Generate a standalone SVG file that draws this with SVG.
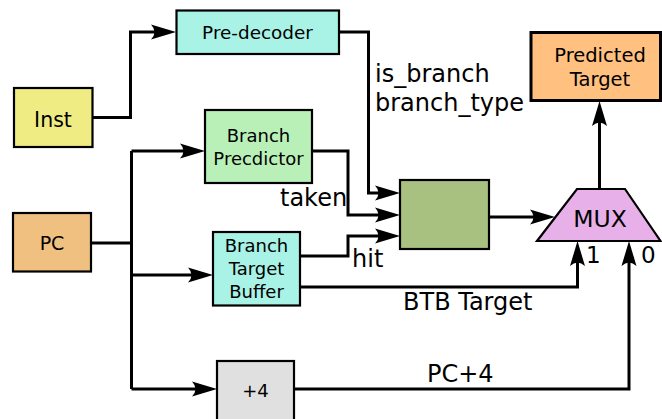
<svg xmlns="http://www.w3.org/2000/svg" width="662" height="419" viewBox="0 0 662 419">
<defs>
<style>
.box{stroke:#000;stroke-width:2.2}
.lbl{font-family:"DejaVu Sans",Verdana,sans-serif;font-size:18px;fill:#000;text-anchor:middle}
.txt{font-family:"DejaVu Sans",Verdana,sans-serif;font-size:24px;fill:#000}
.wire{fill:none;stroke:#000;stroke-width:3}
.arr{marker-end:url(#ah)}
</style>
<marker id="ah" markerUnits="userSpaceOnUse" viewBox="-26 -9 27 18" refX="-10" refY="0" markerWidth="27" markerHeight="18" orient="auto">
<path d="M0,0 L-25,-7.5 Q-18,0 -25,7.5 Z" fill="#000"/>
</marker>
</defs>
<rect width="662" height="419" fill="#fff"/>
<g id="connectors">
<path class="wire arr" d="M92.5,117.5 H130.5 V32 H166"/>
<path class="wire" d="M91,243 H131.5"/>
<path class="wire" d="M131.5,151 V389"/>
<path class="wire arr" d="M131.5,151 H195"/>
<path class="wire arr" d="M131.5,275 H203"/>
<path class="wire arr" d="M131.5,389 H207"/>
<path class="wire arr" d="M339,32 H368.5 V193 H390"/>
<path class="wire arr" d="M312,151 H348 V215 H390"/>
<path class="wire arr" d="M300,256 H348 V236 H390"/>
<path class="wire arr" d="M489,217 H545"/>
<path class="wire arr" d="M599.5,189 V111"/>
<path class="wire arr" d="M300,287 H577.5 V251"/>
<path class="wire arr" d="M294,389 H629 V251"/>
</g>
<g id="inst"><rect class="box" x="14" y="88" width="78.5" height="59" fill="#f0ec84"/><text class="lbl" x="53" y="127" style="font-size:20.5px">Inst</text></g>
<g id="pc"><rect class="box" x="13" y="213" width="78" height="58.5" fill="#f0c080"/><text class="lbl" x="52" y="250" style="font-size:19px">PC</text></g>
<g id="predecoder"><rect class="box" x="176.5" y="10.5" width="162.5" height="43.5" fill="#a8f2e6"/><text class="lbl" x="257.5" y="39" style="font-size:18.4px">Pre-decoder</text></g>
<g id="branch-predictor"><rect class="box" x="205" y="110" width="107" height="73" fill="#b8f0b8"/><text class="lbl" x="258.5" y="142">Branch</text><text class="lbl" x="258.5" y="165">Precdictor</text></g>
<g id="btb"><rect class="box" x="213" y="232" width="87" height="73.5" fill="#a8f2e6"/><text class="lbl" x="256.5" y="252">Branch</text><text class="lbl" x="256.5" y="275">Target</text><text class="lbl" x="256.5" y="298">Buffer</text></g>
<g id="plus4"><rect class="box" x="217" y="361" width="77" height="62" fill="#e0e0e0"/><text class="lbl" x="255.5" y="397">+4</text></g>
<g id="logic"><rect class="box" x="400" y="180" width="89" height="69" fill="#a8c080"/></g>
<g id="mux"><polygon class="box" points="577,189 625,189 660.5,241 537,241" fill="#e8b0e8" stroke-width="2.5"/><text class="lbl" x="600" y="227" style="font-size:23.5px">MUX</text></g>
<g id="predicted-target"><rect x="531" y="32.5" width="129.5" height="68" fill="#ffc080" stroke="#000" stroke-width="3"/><text class="lbl" x="600" y="62" style="font-size:19.5px">Predicted</text><text class="lbl" x="600" y="86" style="font-size:19.5px">Target</text></g>
<g id="labels">
<text class="txt" x="375" y="82">is_branch</text>
<text class="txt" x="375" y="111">branch_type</text>
<text class="txt" x="280" y="206">taken</text>
<text class="txt" x="352" y="267">hit</text>
<text class="txt" x="403" y="310">BTB Target</text>
<text class="txt" x="427" y="382">PC+4</text>
<text class="txt" x="586" y="263" style="font-size:23px">1</text>
<text class="txt" x="641" y="263" style="font-size:23px">0</text>
</g>
</svg>
